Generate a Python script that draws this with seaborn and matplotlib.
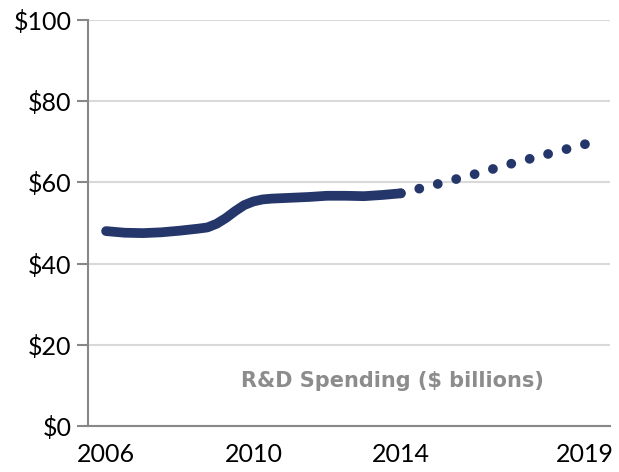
import pandas as pd
import matplotlib
matplotlib.use('Agg')
import matplotlib.pyplot as plt
import seaborn as sns

actual_years = [2006.0, 2006.5, 2007.0, 2007.5, 2008.0, 2008.5, 2008.75, 2009.0,
                2009.25, 2009.5, 2009.75, 2010.0, 2010.25, 2010.5, 2011.0,
                2011.5, 2012.0, 2012.5, 2013.0, 2013.5, 2014.0]
actual_spend = [48.0, 47.6, 47.5, 47.7, 48.1, 48.6, 48.9, 49.8,
                51.2, 52.9, 54.4, 55.3, 55.8, 56.0, 56.2,
                56.4, 56.7, 56.7, 56.6, 56.9, 57.3]
forecast_years = [2014, 2015, 2016, 2017, 2018, 2019]
forecast_spend = [57.3, 59.6, 62.0, 64.6, 67.0, 69.4]
x_ticks = [2006, 2010, 2014, 2019]
y_ticks = [0, 20, 40, 60, 80, 100]
label = 'R&D Spending ($ billions)'

actual = pd.DataFrame({'year': actual_years, 'spend': actual_spend})
forecast = pd.DataFrame({'year': forecast_years, 'spend': forecast_spend})

sns.set_style('white')
plt.rcParams['font.family'] = ['Lato', 'DejaVu Sans']

navy = '#24366a'
fig = plt.figure(figsize=(6.19, 4.72), dpi=100)
ax = fig.add_axes([0.1422, 0.0975, 0.8433, 0.8602])

sns.lineplot(data=actual, x='year', y='spend', ax=ax, color=navy,
             linewidth=7, solid_capstyle='round')
sns.lineplot(data=forecast, x='year', y='spend', ax=ax, color=navy,
             linewidth=7, linestyle=(0, (0.01, 1.95)), dash_capstyle='round')

ax.set_xlim(2005.51, 2019.68)
ax.set_ylim(0, 100)
ax.set_xticks(x_ticks)
ax.set_xticklabels([str(x) for x in x_ticks])
ax.set_yticks(y_ticks)
ax.set_yticklabels([f'${v}' for v in y_ticks])
ax.set_xlabel('')
ax.set_ylabel('')

ax.grid(True, axis='y', color='#d9d9d9', linewidth=1.5)
ax.set_axisbelow(True)
for side in ['top', 'right']:
    ax.spines[side].set_visible(False)
for side in ['left', 'bottom']:
    ax.spines[side].set_color('#888888')
    ax.spines[side].set_linewidth(1.5)

ax.tick_params(axis='y', length=8, width=1.5, color='#888888', pad=4,
               labelsize=18, labelcolor='black', left=True)
ax.tick_params(axis='x', length=0, pad=12, labelsize=18, labelcolor='black')

ax.text(0.583, 0.111, label, transform=ax.transAxes, ha='center', va='center',
        fontsize=15, fontweight='bold', color='#8c8c8c', family='DejaVu Sans')

plt.savefig('out.png', dpi=100)
